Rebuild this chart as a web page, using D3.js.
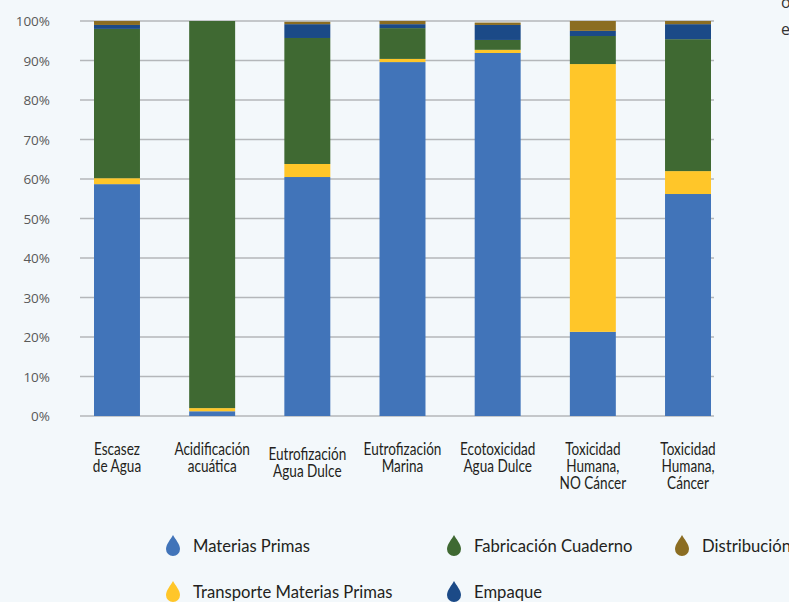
<!DOCTYPE html>
<html>
<head>
<meta charset="utf-8">
<script src="https://cdn.jsdelivr.net/npm/d3@7"></script>
<style>
  html, body { margin: 0; padding: 0; background: #F3F8FB; }
  svg { display: block; }
</style>
</head>
<body>
<svg id="chart" width="789" height="602"></svg>
<script>
const categories = [
  ["Escasez", "de Agua"],
  ["Acidificación", "acuática"],
  ["Eutrofización", "Agua Dulce"],
  ["Eutrofización", "Marina"],
  ["Ecotoxicidad", "Agua Dulce"],
  ["Toxicidad", "Humana,", "NO Cáncer"],
  ["Toxicidad", "Humana,", "Cáncer"]
];
const seriesNames = ["Materias Primas", "Transporte Materias Primas", "Fabricación Cuaderno", "Empaque", "Distribución"];
const materiasPrimas = [58.7, 1.2, 60.5, 89.6, 91.9, 21.3, 56.2];
const transporte     = [1.5, 0.8, 3.3, 0.8, 0.8, 67.8, 5.8];
const fabricacion    = [37.8, 98.0, 31.9, 7.8, 2.5, 7.1, 33.4];
const empaque        = [1.0, 0.0, 3.5, 1.0, 3.8, 1.3, 3.8];
const distribucion   = [1.0, 0.0, 0.6, 0.8, 0.6, 2.5, 0.8];
const yTicks = [0, 10, 20, 30, 40, 50, 60, 70, 80, 90, 100];
const colors = ["#4174B9", "#FFC629", "#3F6932", "#1B4A87", "#8B6D22"];

const svg = d3.select("#chart");
const keys = ["m", "t", "f", "e", "d"];
const rows = categories.map((c, i) => ({
  key: c.join(" "), lines: c,
  m: materiasPrimas[i], t: transporte[i], f: fabricacion[i], e: empaque[i], d: distribucion[i]
}));

const x = d3.scaleBand().domain(rows.map(r => r.key)).range([69.4, 735.6]).paddingInner(0.517).paddingOuter(0.2585);
const y = d3.scaleLinear().domain([0, 100]).range([416, 21]);
const color = d3.scaleOrdinal().domain(keys).range(colors);

// gridlines
svg.append("g").selectAll("line").data(yTicks).join("line")
  .attr("x1", 80).attr("x2", 714)
  .attr("y1", d => y(d)).attr("y2", d => y(d))
  .attr("stroke", "#B4B7BA").attr("stroke-width", 1.3);

// y labels
svg.append("g").selectAll("text").data(yTicks).join("text")
  .attr("x", 50).attr("y", d => y(d) + 5)
  .attr("text-anchor", "end")
  .attr("font-family", "'Open Sans', sans-serif").attr("font-size", 13.5)
  .attr("fill", "#595959")
  .text(d => d + "%");

// bars
const stacked = d3.stack().keys(keys)(rows);
svg.append("g").selectAll("g").data(stacked).join("g")
  .attr("fill", d => color(d.key))
  .selectAll("rect").data(d => d).join("rect")
  .attr("x", d => x(d.data.key))
  .attr("width", x.bandwidth())
  .attr("y", d => y(d[1]))
  .attr("height", d => Math.max(0, y(d[0]) - y(d[1])));

// condensed-look text: measure a reference word and squeeze horizontally
const labFont = "Lato, 'Open Sans', sans-serif";
function squeeze(sample, size, target) {
  const t = svg.append("text").attr("font-family", labFont).attr("font-size", size).text(sample);
  const w = t.node().getComputedTextLength();
  t.remove();
  return target / w;
}
const xSize = 16.5, lSize = 18;
const kx = squeeze("Escasez", xSize, 46);
const kl = squeeze("Materias Primas", lSize, 117);

// x labels: one text per line
const lineData = [];
rows.forEach((r, i) => r.lines.forEach((ln, j) => lineData.push({
  cx: x(r.key) + x.bandwidth() / 2, by: (i === 2 ? 460 : 455) + j * 17, t: ln
})));
svg.append("g").selectAll("text").data(lineData).join("text")
  .attr("text-anchor", "middle")
  .attr("font-family", labFont).attr("font-size", xSize)
  .attr("fill", "#231F20")
  .attr("transform", d => `translate(${d.cx},${d.by}) scale(${kx},1)`)
  .text(d => d.t);

// legend
const legendItems = [
  { name: seriesNames[0], c: colors[0], x: 173, y: 545 },
  { name: seriesNames[2], c: colors[2], x: 454, y: 545 },
  { name: seriesNames[4], c: colors[4], x: 682, y: 545 },
  { name: seriesNames[1], c: colors[1], x: 173, y: 591 },
  { name: seriesNames[3], c: colors[3], x: 454, y: 591 }
];
const drop = "M0,-10 C2,-6 7,-1 7,4 A7,7 0 0 1 -7,4 C-7,-1 -2,-6 0,-10 Z";
const lg = svg.append("g").selectAll("g").data(legendItems).join("g")
  .attr("transform", d => `translate(${d.x},${d.y})`);
lg.append("path").attr("d", drop).attr("fill", d => d.c);
lg.append("text").attr("transform", `translate(20,7) scale(${kl},1)`)
  .attr("font-family", labFont).attr("font-size", lSize)
  .attr("fill", "#231F20").text(d => d.name);

// clipped paragraph fragments at the right edge
svg.append("text").attr("x", 781).attr("y", 8).attr("font-family", "'Open Sans', sans-serif")
  .attr("font-size", 16).attr("fill", "#333").text("o");
svg.append("text").attr("x", 781).attr("y", 35).attr("font-family", "'Open Sans', sans-serif")
  .attr("font-size", 16).attr("fill", "#333").text("e");
</script>
</body>
</html>
